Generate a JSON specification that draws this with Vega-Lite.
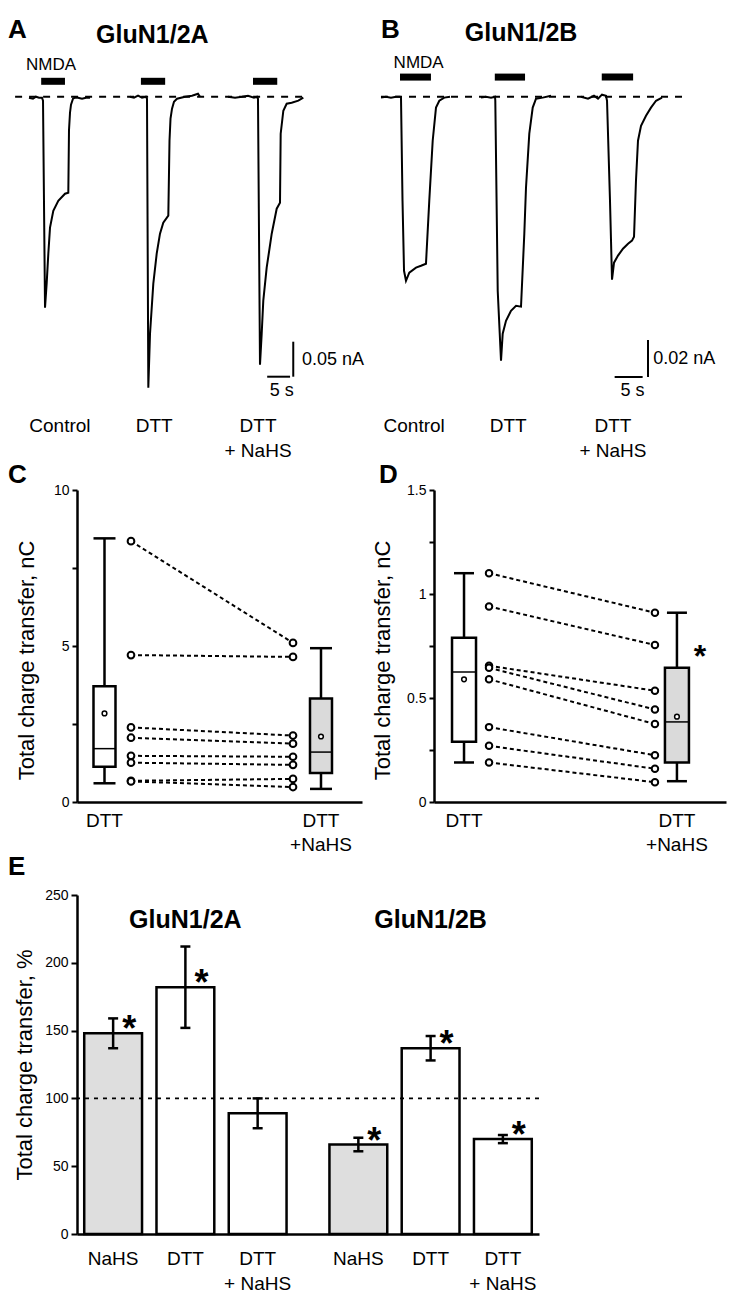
{
"$schema": "https://vega.github.io/schema/vega-lite/v6.json",
"padding": {"left": 8, "top": 0, "right": 0, "bottom": 0},
"spacing": 0,
"config": {
  "view": {"stroke": null},
  "font": "Liberation Sans",
  "tick": {"opacity": 1},
  "axis": {"grid": false, "domainColor": "black", "tickColor": "black", "labelColor": "black", "titleColor": "black"},
  "title": {"color": "black"}
},
"datasets": {
  "traces": [
    {"panel":"A","cond":"Control","t":6.34,"I":-0.0014},{"panel":"A","cond":"Control","t":7.21,"I":-0.0029},{"panel":"A","cond":"Control","t":7.87,"I":0},{"panel":"A","cond":"Control","t":8.53,"I":-0.0014},{"panel":"A","cond":"Control","t":9.18,"I":-0.0014},{"panel":"A","cond":"Control","t":9.40,"I":-0.0057},{"panel":"A","cond":"Control","t":9.84,"I":-0.3014},{"panel":"A","cond":"Control","t":10.21,"I":-0.2657},{"panel":"A","cond":"Control","t":10.56,"I":-0.2243},{"panel":"A","cond":"Control","t":10.93,"I":-0.1871},{"panel":"A","cond":"Control","t":11.65,"I":-0.1629},{"panel":"A","cond":"Control","t":12.74,"I":-0.1486},{"panel":"A","cond":"Control","t":14.21,"I":-0.1386},{"panel":"A","cond":"Control","t":14.93,"I":-0.1371},{"panel":"A","cond":"Control","t":15.08,"I":-0.0479},{"panel":"A","cond":"Control","t":15.30,"I":-0.0229},{"panel":"A","cond":"Control","t":15.52,"I":-0.0114},{"panel":"A","cond":"Control","t":15.96,"I":-0.0029},{"panel":"A","cond":"Control","t":16.39,"I":-0.0014},{"panel":"A","cond":"Control","t":17.05,"I":-0.0014},{"panel":"A","cond":"Control","t":17.93,"I":-0.0029},{"panel":"A","cond":"Control","t":18.80,"I":-0.0014},{"panel":"A","cond":"Control","t":19.67,"I":-0.0014},
    {"panel":"A","cond":"DTT","t":28.42,"I":0},{"panel":"A","cond":"DTT","t":29.29,"I":-0.0014},{"panel":"A","cond":"DTT","t":30.17,"I":0.0014},{"panel":"A","cond":"DTT","t":31.04,"I":-0.0014},{"panel":"A","cond":"DTT","t":31.91,"I":0},{"panel":"A","cond":"DTT","t":32.13,"I":-0.0029},{"panel":"A","cond":"DTT","t":32.42,"I":-0.4157},{"panel":"A","cond":"DTT","t":32.79,"I":-0.3386},{"panel":"A","cond":"DTT","t":33.51,"I":-0.2671},{"panel":"A","cond":"DTT","t":34.25,"I":-0.2243},{"panel":"A","cond":"DTT","t":34.97,"I":-0.1957},{"panel":"A","cond":"DTT","t":35.69,"I":-0.18},{"panel":"A","cond":"DTT","t":36.79,"I":-0.17},{"panel":"A","cond":"DTT","t":37.05,"I":-0.0629},{"panel":"A","cond":"DTT","t":37.27,"I":-0.0314},{"panel":"A","cond":"DTT","t":37.60,"I":-0.0171},{"panel":"A","cond":"DTT","t":38.03,"I":-0.0071},{"panel":"A","cond":"DTT","t":38.69,"I":-0.0029},{"panel":"A","cond":"DTT","t":40.44,"I":0},{"panel":"A","cond":"DTT","t":41.97,"I":0.0014},{"panel":"A","cond":"DTT","t":43.28,"I":0.0043},{"panel":"A","cond":"DTT","t":43.72,"I":0},
    {"panel":"A","cond":"DTT+NaHS","t":49.84,"I":0},{"panel":"A","cond":"DTT+NaHS","t":51.37,"I":-0.0014},{"panel":"A","cond":"DTT+NaHS","t":52.90,"I":0},{"panel":"A","cond":"DTT+NaHS","t":54.21,"I":0.0014},{"panel":"A","cond":"DTT+NaHS","t":55.52,"I":-0.0014},{"panel":"A","cond":"DTT+NaHS","t":56.18,"I":0},{"panel":"A","cond":"DTT+NaHS","t":56.39,"I":-0.0029},{"panel":"A","cond":"DTT+NaHS","t":56.83,"I":-0.3829},{"panel":"A","cond":"DTT+NaHS","t":57.2,"I":-0.3386},{"panel":"A","cond":"DTT+NaHS","t":57.55,"I":-0.2914},{"panel":"A","cond":"DTT+NaHS","t":58.29,"I":-0.2443},{"panel":"A","cond":"DTT+NaHS","t":59.39,"I":-0.1957},{"panel":"A","cond":"DTT+NaHS","t":60.48,"I":-0.16},{"panel":"A","cond":"DTT+NaHS","t":61.2,"I":-0.1514},{"panel":"A","cond":"DTT+NaHS","t":61.35,"I":-0.0529},{"panel":"A","cond":"DTT+NaHS","t":61.93,"I":-0.02},{"panel":"A","cond":"DTT+NaHS","t":62.66,"I":-0.01},{"panel":"A","cond":"DTT+NaHS","t":63.75,"I":-0.0086},{"panel":"A","cond":"DTT+NaHS","t":65.21,"I":-0.0057},{"panel":"A","cond":"DTT+NaHS","t":66.3,"I":-0.0014},
    {"panel":"B","cond":"Control","t":2.68,"I":-0.0005},{"panel":"B","cond":"Control","t":3.57,"I":0},{"panel":"B","cond":"Control","t":4.46,"I":-0.0005},{"panel":"B","cond":"Control","t":5.36,"I":0},{"panel":"B","cond":"Control","t":6.07,"I":0},{"panel":"B","cond":"Control","t":6.25,"I":-0.0005},{"panel":"B","cond":"Control","t":6.52,"I":-0.0562},{"panel":"B","cond":"Control","t":6.79,"I":-0.0941},{"panel":"B","cond":"Control","t":7.14,"I":-0.0995},{"panel":"B","cond":"Control","t":7.73,"I":-0.0951},{"panel":"B","cond":"Control","t":8.93,"I":-0.0924},{"panel":"B","cond":"Control","t":9.82,"I":-0.0914},{"panel":"B","cond":"Control","t":10.71,"I":-0.0903},{"panel":"B","cond":"Control","t":11.3,"I":-0.0562},{"panel":"B","cond":"Control","t":11.91,"I":-0.0238},{"panel":"B","cond":"Control","t":12.5,"I":-0.0059},{"panel":"B","cond":"Control","t":13.09,"I":-0.0022},{"panel":"B","cond":"Control","t":13.98,"I":-0.0005},{"panel":"B","cond":"Control","t":15.0,"I":0},
    {"panel":"B","cond":"DTT","t":20.54,"I":-0.0005},{"panel":"B","cond":"DTT","t":21.43,"I":0},{"panel":"B","cond":"DTT","t":22.32,"I":-0.0005},{"panel":"B","cond":"DTT","t":23.04,"I":0},{"panel":"B","cond":"DTT","t":23.09,"I":-0.0022},{"panel":"B","cond":"DTT","t":23.52,"I":-0.1049},{"panel":"B","cond":"DTT","t":24.11,"I":-0.1427},{"panel":"B","cond":"DTT","t":24.41,"I":-0.1281},{"panel":"B","cond":"DTT","t":25.0,"I":-0.1211},{"panel":"B","cond":"DTT","t":25.89,"I":-0.1157},{"panel":"B","cond":"DTT","t":26.79,"I":-0.113},{"panel":"B","cond":"DTT","t":27.68,"I":-0.1135},{"panel":"B","cond":"DTT","t":28.27,"I":-0.0741},{"panel":"B","cond":"DTT","t":28.57,"I":-0.0492},{"panel":"B","cond":"DTT","t":29.16,"I":-0.02},{"panel":"B","cond":"DTT","t":29.77,"I":-0.0059},{"panel":"B","cond":"DTT","t":30.36,"I":-0.0011},{"panel":"B","cond":"DTT","t":31.55,"I":-0.0005},{"panel":"B","cond":"DTT","t":33.04,"I":0.0005},
    {"panel":"B","cond":"DTT+NaHS","t":38.39,"I":0},{"panel":"B","cond":"DTT+NaHS","t":39.64,"I":-0.0011},{"panel":"B","cond":"DTT+NaHS","t":40.71,"I":0.0005},{"panel":"B","cond":"DTT+NaHS","t":41.43,"I":-0.0011},{"panel":"B","cond":"DTT+NaHS","t":42.14,"I":0.0011},{"panel":"B","cond":"DTT+NaHS","t":42.86,"I":0.0005},{"panel":"B","cond":"DTT+NaHS","t":43.04,"I":-0.0022},{"panel":"B","cond":"DTT+NaHS","t":43.57,"I":-0.0562},{"panel":"B","cond":"DTT+NaHS","t":43.93,"I":-0.0989},{"panel":"B","cond":"DTT+NaHS","t":44.29,"I":-0.0897},{"panel":"B","cond":"DTT+NaHS","t":45.0,"I":-0.0859},{"panel":"B","cond":"DTT+NaHS","t":45.89,"I":-0.0822},{"panel":"B","cond":"DTT+NaHS","t":46.79,"I":-0.0795},{"panel":"B","cond":"DTT+NaHS","t":47.5,"I":-0.0778},{"panel":"B","cond":"DTT+NaHS","t":47.86,"I":-0.0757},{"panel":"B","cond":"DTT+NaHS","t":48.21,"I":-0.0454},{"panel":"B","cond":"DTT+NaHS","t":48.57,"I":-0.0238},{"panel":"B","cond":"DTT+NaHS","t":49.11,"I":-0.0157},{"panel":"B","cond":"DTT+NaHS","t":50.0,"I":-0.0103},{"panel":"B","cond":"DTT+NaHS","t":50.89,"I":-0.0059},{"panel":"B","cond":"DTT+NaHS","t":51.79,"I":-0.0022},{"panel":"B","cond":"DTT+NaHS","t":52.86,"I":-0.0005}
  ],
  "nmda": [
    {"panel":"A","cond":"Control","start":9.0,"end":14.2},{"panel":"A","cond":"DTT","start":30.8,"end":36.1},{"panel":"A","cond":"DTT+NaHS","start":55.3,"end":60.6},
    {"panel":"B","cond":"Control","start":6.07,"end":11.6},{"panel":"B","cond":"DTT","start":23.0,"end":28.4},{"panel":"B","cond":"DTT+NaHS","start":42.1,"end":47.7}
  ],
  "boxes": [
    {"panel":"C","cond":"DTT","lo":0.6,"q1":1.13,"med":1.71,"q3":3.71,"hi":8.45,"mean":2.84},
    {"panel":"C","cond":"DTT+NaHS","lo":0.42,"q1":0.93,"med":1.6,"q3":3.32,"hi":4.93,"mean":2.1},
    {"panel":"D","cond":"DTT","lo":0.19,"q1":0.29,"med":0.625,"q3":0.79,"hi":1.1,"mean":0.59},
    {"panel":"D","cond":"DTT+NaHS","lo":0.1,"q1":0.19,"med":0.385,"q3":0.645,"hi":0.91,"mean":0.41}
  ],
  "pairs": [
    {"panel":"C","cell":1,"dtt":8.36,"nahs":5.1},{"panel":"C","cell":2,"dtt":4.71,"nahs":4.65},{"panel":"C","cell":3,"dtt":2.39,"nahs":2.13},{"panel":"C","cell":4,"dtt":2.06,"nahs":1.87},{"panel":"C","cell":5,"dtt":1.48,"nahs":1.45},{"panel":"C","cell":6,"dtt":1.26,"nahs":1.19},{"panel":"C","cell":7,"dtt":0.68,"nahs":0.74},{"panel":"C","cell":8,"dtt":0.66,"nahs":0.48},
    {"panel":"D","cell":1,"dtt":1.10,"nahs":0.91},{"panel":"D","cell":2,"dtt":0.94,"nahs":0.755},{"panel":"D","cell":3,"dtt":0.655,"nahs":0.535},{"panel":"D","cell":4,"dtt":0.645,"nahs":0.445},{"panel":"D","cell":5,"dtt":0.59,"nahs":0.375},{"panel":"D","cell":6,"dtt":0.36,"nahs":0.225},{"panel":"D","cell":7,"dtt":0.27,"nahs":0.16},{"panel":"D","cell":8,"dtt":0.19,"nahs":0.095}
  ],
  "pct": [
    {"group":"GluN1/2A","cond":"NaHS","mean":148,"lo":137,"hi":159,"sig":true},
    {"group":"GluN1/2A","cond":"DTT","mean":182,"lo":152,"hi":212,"sig":true},
    {"group":"GluN1/2A","cond":"DTT+NaHS","mean":89,"lo":78,"hi":100,"sig":false},
    {"group":"GluN1/2B","cond":"NaHS","mean":66,"lo":61,"hi":71,"sig":true},
    {"group":"GluN1/2B","cond":"DTT","mean":137,"lo":128,"hi":146,"sig":true},
    {"group":"GluN1/2B","cond":"DTT+NaHS","mean":70,"lo":67,"hi":73,"sig":true}
  ]
},
"vconcat": [
 {"bounds": "flush", "spacing": 0, "hconcat": [
  {"width": 289, "height": 396, "layer": [
    {"data": {"values": [{}]}, "mark": {"type": "rule", "strokeDash": [7, 7], "strokeWidth": 2, "color": "black"},
     "encoding": {"x": {"datum": 3.3, "type": "quantitative", "scale": {"domain": [16.83, 80], "nice": false, "zero": false}, "axis": null}, "x2": {"datum": 66.7},
                  "y": {"datum": 0, "type": "quantitative", "scale": {"domain": [-0.42757, 0.13814], "nice": false, "zero": false}, "axis": null}}},
    {"data": {"name": "nmda"}, "transform": [{"filter": "datum.panel == 'A'"}], "mark": {"type": "rule", "strokeWidth": 7, "color": "black"},
     "encoding": {"x": {"field": "start", "type": "quantitative", "axis": null}, "x2": {"field": "end"}, "y": {"datum": 0.022, "type": "quantitative", "axis": null}}},
    {"data": {"name": "traces"}, "transform": [{"filter": "datum.panel == 'A'"}], "mark": {"type": "line", "strokeWidth": 2, "color": "black"},
     "encoding": {"x": {"field": "t", "type": "quantitative", "axis": null}, "y": {"field": "I", "type": "quantitative", "axis": null}, "detail": {"field": "cond"}}},
    {"data": {"values": [{}]}, "mark": {"type": "rule", "strokeWidth": 2, "color": "black"},
     "encoding": {"x": {"datum": 64.1, "type": "quantitative", "axis": null}, "y": {"datum": -0.35, "type": "quantitative", "axis": null}, "y2": {"datum": -0.40}}},
    {"data": {"values": [{}]}, "mark": {"type": "rule", "strokeWidth": 2, "color": "black"},
     "encoding": {"x": {"datum": 58.4, "type": "quantitative", "axis": null}, "x2": {"datum": 63.4}, "y": {"datum": -0.40, "type": "quantitative", "axis": null}}},
    {"data": {"values": [{}]}, "mark": {"type": "text", "text": "A", "fontSize": 26, "fontWeight": "bold", "align": "left", "baseline": "middle", "color": "black"},
     "encoding": {"x": {"datum": 1.75, "type": "quantitative", "axis": null}, "y": {"datum": 0.0953, "type": "quantitative", "axis": null}}},
    {"data": {"values": [{}]}, "mark": {"type": "text", "text": "GluN1/2A", "fontSize": 25, "fontWeight": "bold", "align": "center", "baseline": "middle", "color": "black"},
     "encoding": {"x": {"datum": 33.3, "type": "quantitative", "axis": null}, "y": {"datum": 0.088, "type": "quantitative", "axis": null}}},
    {"data": {"values": [{}]}, "mark": {"type": "text", "text": "NMDA", "fontSize": 17, "align": "center", "baseline": "middle", "color": "black"},
     "encoding": {"x": {"datum": 11.15, "type": "quantitative", "axis": null}, "y": {"datum": 0.0453, "type": "quantitative", "axis": null}}},
    {"data": {"values": [{}]}, "mark": {"type": "text", "text": "0.05 nA", "fontSize": 18, "align": "left", "baseline": "middle", "color": "black"},
     "encoding": {"x": {"datum": 66.0, "type": "quantitative", "axis": null}, "y": {"datum": -0.3757, "type": "quantitative", "axis": null}}},
    {"data": {"values": [{}]}, "mark": {"type": "text", "text": "5 s", "fontSize": 18, "align": "center", "baseline": "middle", "color": "black"},
     "encoding": {"x": {"datum": 61.6, "type": "quantitative", "axis": null}, "y": {"datum": -0.421, "type": "quantitative", "axis": null}}},
    {"data": {"values": [{}]}, "mark": {"type": "text", "text": "Control", "fontSize": 19, "align": "center", "baseline": "top", "color": "black"},
     "encoding": {"x": {"datum": 13.1, "type": "quantitative", "axis": null}, "y": {"datum": -0.4576, "type": "quantitative", "axis": null}}},
    {"data": {"values": [{}]}, "mark": {"type": "text", "text": "DTT", "fontSize": 19, "align": "center", "baseline": "top", "color": "black"},
     "encoding": {"x": {"datum": 33.7, "type": "quantitative", "axis": null}, "y": {"datum": -0.4576, "type": "quantitative", "axis": null}}},
    {"data": {"values": [{}]}, "mark": {"type": "text", "text": "DTT\n+ NaHS", "lineBreak": "\n", "lineHeight": 25, "fontSize": 19, "align": "center", "baseline": "top", "color": "black"},
     "encoding": {"x": {"datum": 56.4, "type": "quantitative", "axis": null}, "y": {"datum": -0.4576, "type": "quantitative", "axis": null}}}
  ]},
  {"width": 366, "height": 396, "layer": [
    {"data": {"values": [{}]}, "mark": {"type": "rule", "strokeDash": [7, 7], "strokeWidth": 2, "color": "black"},
     "encoding": {"x": {"datum": 2.68, "type": "quantitative", "scale": {"domain": [0, 65.357], "nice": false, "zero": false}, "axis": null}, "x2": {"datum": 57.1},
                  "y": {"datum": 0, "type": "quantitative", "scale": {"domain": [-0.16178, 0.05227], "nice": false, "zero": false}, "axis": null}}},
    {"data": {"name": "nmda"}, "transform": [{"filter": "datum.panel == 'B'"}], "mark": {"type": "rule", "strokeWidth": 7, "color": "black"},
     "encoding": {"x": {"field": "start", "type": "quantitative", "axis": null}, "x2": {"field": "end"}, "y": {"datum": 0.0106, "type": "quantitative", "axis": null}}},
    {"data": {"name": "traces"}, "transform": [{"filter": "datum.panel == 'B'"}], "mark": {"type": "line", "strokeWidth": 2, "color": "black"},
     "encoding": {"x": {"field": "t", "type": "quantitative", "axis": null}, "y": {"field": "I", "type": "quantitative", "axis": null}, "detail": {"field": "cond"}}},
    {"data": {"values": [{}]}, "mark": {"type": "rule", "strokeWidth": 2, "color": "black"},
     "encoding": {"x": {"datum": 50.36, "type": "quantitative", "axis": null}, "y": {"datum": -0.1315, "type": "quantitative", "axis": null}, "y2": {"datum": -0.1515}}},
    {"data": {"values": [{}]}, "mark": {"type": "rule", "strokeWidth": 2, "color": "black"},
     "encoding": {"x": {"datum": 44.4, "type": "quantitative", "axis": null}, "x2": {"datum": 49.4}, "y": {"datum": -0.1515, "type": "quantitative", "axis": null}}},
    {"data": {"values": [{}]}, "mark": {"type": "text", "text": "B", "fontSize": 26, "fontWeight": "bold", "align": "left", "baseline": "middle", "color": "black"},
     "encoding": {"x": {"datum": 2.68, "type": "quantitative", "axis": null}, "y": {"datum": 0.036, "type": "quantitative", "axis": null}}},
    {"data": {"values": [{}]}, "mark": {"type": "text", "text": "GluN1/2B", "fontSize": 25, "fontWeight": "bold", "align": "center", "baseline": "middle", "color": "black"},
     "encoding": {"x": {"datum": 27.7, "type": "quantitative", "axis": null}, "y": {"datum": 0.0344, "type": "quantitative", "axis": null}}},
    {"data": {"values": [{}]}, "mark": {"type": "text", "text": "NMDA", "fontSize": 17, "align": "center", "baseline": "middle", "color": "black"},
     "encoding": {"x": {"datum": 9.4, "type": "quantitative", "axis": null}, "y": {"datum": 0.0182, "type": "quantitative", "axis": null}}},
    {"data": {"values": [{}]}, "mark": {"type": "text", "text": "0.02 nA", "fontSize": 18, "align": "left", "baseline": "middle", "color": "black"},
     "encoding": {"x": {"datum": 51.3, "type": "quantitative", "axis": null}, "y": {"datum": -0.142, "type": "quantitative", "axis": null}}},
    {"data": {"values": [{}]}, "mark": {"type": "text", "text": "5 s", "fontSize": 18, "align": "center", "baseline": "middle", "color": "black"},
     "encoding": {"x": {"datum": 47.6, "type": "quantitative", "axis": null}, "y": {"datum": -0.159, "type": "quantitative", "axis": null}}},
    {"data": {"values": [{}]}, "mark": {"type": "text", "text": "Control", "fontSize": 19, "align": "center", "baseline": "top", "color": "black"},
     "encoding": {"x": {"datum": 8.6, "type": "quantitative", "axis": null}, "y": {"datum": -0.1731, "type": "quantitative", "axis": null}}},
    {"data": {"values": [{}]}, "mark": {"type": "text", "text": "DTT", "fontSize": 19, "align": "center", "baseline": "top", "color": "black"},
     "encoding": {"x": {"datum": 25.4, "type": "quantitative", "axis": null}, "y": {"datum": -0.1731, "type": "quantitative", "axis": null}}},
    {"data": {"values": [{}]}, "mark": {"type": "text", "text": "DTT\n+ NaHS", "lineBreak": "\n", "lineHeight": 25, "fontSize": 19, "align": "center", "baseline": "top", "color": "black"},
     "encoding": {"x": {"datum": 44.1, "type": "quantitative", "axis": null}, "y": {"datum": -0.1731, "type": "quantitative", "axis": null}}}
  ]}
 ]},
 {"bounds": "flush", "spacing": 72, "hconcat": [
  {"width": 285, "height": 312,
   "title": {"text": "C", "anchor": "start", "frame": "group", "dx": -69, "offset": -5, "fontSize": 26, "fontWeight": "bold", "font": "Liberation Sans", "color": "black"},
   "layer": [
    {"data": {"name": "boxes"}, "transform": [{"filter": "datum.panel == 'C'"}], "mark": {"type": "rule", "strokeWidth": 2.5, "color": "black"},
     "encoding": {
       "x": {"field": "cond", "type": "nominal", "scale": {"type": "band", "domain": ["DTT", "DTT+NaHS"], "paddingInner": 0.746, "paddingOuter": 0.0312, "align": 0},
             "axis": {"title": null, "ticks": false, "domainWidth": 2.5, "labelAngle": 0, "labelFontSize": 19, "labelPadding": 9, "labelLineHeight": 24, "labelExpr": "datum.value == 'DTT+NaHS' ? ['DTT', '+NaHS'] : datum.label"}},
       "y": {"field": "lo", "type": "quantitative", "scale": {"domain": [0, 10], "nice": false},
             "axis": {"title": "Total charge transfer, nC", "titleFont": "Liberation Sans", "titleFontSize": 22, "titleFontWeight": "normal", "titlePadding": 15, "titleY": 170, "values": [0, 2.5, 5, 7.5, 10], "labelExpr": "datum.value % 5 == 0 ? format(datum.value, 'd') : ''", "labelFontSize": 14, "labelPadding": 3, "tickSize": 5, "tickWidth": 2, "domainWidth": 2.5}},
       "y2": {"field": "hi"}}},
    {"data": {"name": "boxes"}, "transform": [{"filter": "datum.panel == 'C'"}], "mark": {"type": "bar", "width": 22, "stroke": "black", "strokeWidth": 2.5},
     "encoding": {"x": {"field": "cond", "type": "nominal"}, "y": {"field": "q1", "type": "quantitative"}, "y2": {"field": "q3"},
       "fill": {"condition": {"test": "datum.cond == 'DTT+NaHS'", "value": "#dadada"}, "value": "white"}}},
    {"data": {"name": "boxes"}, "transform": [{"filter": "datum.panel == 'C'"}], "mark": {"type": "tick", "size": 22, "thickness": 1.5, "color": "black", "opacity": 1},
     "encoding": {"x": {"field": "cond", "type": "nominal"}, "y": {"field": "med", "type": "quantitative"}}},
    {"data": {"name": "boxes"}, "transform": [{"filter": "datum.panel == 'C'"}], "mark": {"type": "tick", "size": 22, "thickness": 2.5, "color": "black", "opacity": 1},
     "encoding": {"x": {"field": "cond", "type": "nominal"}, "y": {"field": "lo", "type": "quantitative"}}},
    {"data": {"name": "boxes"}, "transform": [{"filter": "datum.panel == 'C'"}], "mark": {"type": "tick", "size": 22, "thickness": 2.5, "color": "black", "opacity": 1},
     "encoding": {"x": {"field": "cond", "type": "nominal"}, "y": {"field": "hi", "type": "quantitative"}}},
    {"data": {"name": "boxes"}, "transform": [{"filter": "datum.panel == 'C'"}], "mark": {"type": "point", "size": 22, "filled": true, "fill": "white", "stroke": "black", "strokeWidth": 1.5, "opacity": 1},
     "encoding": {"x": {"field": "cond", "type": "nominal"}, "y": {"field": "mean", "type": "quantitative"}}},
    {"data": {"name": "pairs"}, "transform": [{"filter": "datum.panel == 'C'"}], "mark": {"type": "rule", "strokeDash": [4, 3], "strokeWidth": 2, "color": "black", "xOffset": 26.5, "x2Offset": -28},
     "encoding": {"x": {"datum": "DTT", "type": "nominal"}, "x2": {"datum": "DTT+NaHS"}, "y": {"field": "dtt", "type": "quantitative"}, "y2": {"field": "nahs"}}},
    {"data": {"name": "pairs"}, "transform": [{"filter": "datum.panel == 'C'"}], "mark": {"type": "point", "size": 45, "filled": true, "fill": "white", "stroke": "black", "strokeWidth": 2, "opacity": 1, "xOffset": 26.5},
     "encoding": {"x": {"datum": "DTT", "type": "nominal"}, "y": {"field": "dtt", "type": "quantitative"}}},
    {"data": {"name": "pairs"}, "transform": [{"filter": "datum.panel == 'C'"}], "mark": {"type": "point", "size": 45, "filled": true, "fill": "white", "stroke": "black", "strokeWidth": 2, "opacity": 1, "xOffset": -28},
     "encoding": {"x": {"datum": "DTT+NaHS", "type": "nominal"}, "y": {"field": "nahs", "type": "quantitative"}}}
   ]},
  {"width": 292, "height": 312,
   "title": {"text": "D", "anchor": "start", "frame": "group", "dx": -55, "offset": -5, "fontSize": 26, "fontWeight": "bold", "font": "Liberation Sans", "color": "black"},
   "layer": [
    {"data": {"name": "boxes"}, "transform": [{"filter": "datum.panel == 'D'"}], "mark": {"type": "rule", "strokeWidth": 2.5, "color": "black"},
     "encoding": {
       "x": {"field": "cond", "type": "nominal", "scale": {"type": "band", "domain": ["DTT", "DTT+NaHS"], "paddingInner": 0.718, "paddingOuter": 0.0447, "align": 0},
             "axis": {"title": null, "ticks": false, "domainWidth": 2.5, "labelAngle": 0, "labelFontSize": 19, "labelPadding": 9, "labelLineHeight": 24, "labelExpr": "datum.value == 'DTT+NaHS' ? ['DTT', '+NaHS'] : datum.label"}},
       "y": {"field": "lo", "type": "quantitative", "scale": {"domain": [0, 1.5], "nice": false},
             "axis": {"title": "Total charge transfer, nC", "titleFont": "Liberation Sans", "titleFontSize": 22, "titleFontWeight": "normal", "titlePadding": 12, "titleY": 170, "values": [0, 0.25, 0.5, 0.75, 1, 1.25, 1.5], "labelExpr": "datum.value % 0.5 == 0 ? format(datum.value, '~g') : ''", "labelFontSize": 14, "labelPadding": 3, "tickSize": 5, "tickWidth": 2, "domainWidth": 2.5}},
       "y2": {"field": "hi"}}},
    {"data": {"name": "boxes"}, "transform": [{"filter": "datum.panel == 'D'"}], "mark": {"type": "bar", "width": 24, "stroke": "black", "strokeWidth": 2.5},
     "encoding": {"x": {"field": "cond", "type": "nominal"}, "y": {"field": "q1", "type": "quantitative"}, "y2": {"field": "q3"},
       "fill": {"condition": {"test": "datum.cond == 'DTT+NaHS'", "value": "#dadada"}, "value": "white"}}},
    {"data": {"name": "boxes"}, "transform": [{"filter": "datum.panel == 'D'"}], "mark": {"type": "tick", "size": 24, "thickness": 1.5, "color": "black", "opacity": 1},
     "encoding": {"x": {"field": "cond", "type": "nominal"}, "y": {"field": "med", "type": "quantitative"}}},
    {"data": {"name": "boxes"}, "transform": [{"filter": "datum.panel == 'D'"}], "mark": {"type": "tick", "size": 20, "thickness": 2.5, "color": "black", "opacity": 1},
     "encoding": {"x": {"field": "cond", "type": "nominal"}, "y": {"field": "lo", "type": "quantitative"}}},
    {"data": {"name": "boxes"}, "transform": [{"filter": "datum.panel == 'D'"}], "mark": {"type": "tick", "size": 20, "thickness": 2.5, "color": "black", "opacity": 1},
     "encoding": {"x": {"field": "cond", "type": "nominal"}, "y": {"field": "hi", "type": "quantitative"}}},
    {"data": {"name": "boxes"}, "transform": [{"filter": "datum.panel == 'D'"}], "mark": {"type": "point", "size": 22, "filled": true, "fill": "white", "stroke": "black", "strokeWidth": 1.5, "opacity": 1},
     "encoding": {"x": {"field": "cond", "type": "nominal"}, "y": {"field": "mean", "type": "quantitative"}}},
    {"data": {"name": "pairs"}, "transform": [{"filter": "datum.panel == 'D'"}], "mark": {"type": "rule", "strokeDash": [4, 3], "strokeWidth": 2, "color": "black", "xOffset": 25, "x2Offset": -22},
     "encoding": {"x": {"datum": "DTT", "type": "nominal"}, "x2": {"datum": "DTT+NaHS"}, "y": {"field": "dtt", "type": "quantitative"}, "y2": {"field": "nahs"}}},
    {"data": {"name": "pairs"}, "transform": [{"filter": "datum.panel == 'D'"}], "mark": {"type": "point", "size": 42, "filled": true, "fill": "white", "stroke": "black", "strokeWidth": 2, "opacity": 1, "xOffset": 25},
     "encoding": {"x": {"datum": "DTT", "type": "nominal"}, "y": {"field": "dtt", "type": "quantitative"}}},
    {"data": {"name": "pairs"}, "transform": [{"filter": "datum.panel == 'D'"}], "mark": {"type": "point", "size": 42, "filled": true, "fill": "white", "stroke": "black", "strokeWidth": 2, "opacity": 1, "xOffset": -22},
     "encoding": {"x": {"datum": "DTT+NaHS", "type": "nominal"}, "y": {"field": "nahs", "type": "quantitative"}}},
    {"data": {"values": [{}]}, "mark": {"type": "text", "text": "*", "fontSize": 32, "fontWeight": "bold", "align": "center", "baseline": "alphabetic", "dx": 23, "color": "black"},
     "encoding": {"x": {"datum": "DTT+NaHS", "type": "nominal"}, "y": {"datum": 0.65, "type": "quantitative"}}}
   ]}
 ]},
 {"width": 462, "height": 339,
  "title": {"text": "E", "anchor": "start", "frame": "group", "dx": -69, "offset": 8, "fontSize": 26, "fontWeight": "bold", "font": "Liberation Sans", "color": "black"},
  "data": {"name": "pct"},
  "layer": [
    {"mark": {"type": "bar", "stroke": "black", "strokeWidth": 2.5},
     "encoding": {
       "x": {"field": "group", "type": "nominal", "scale": {"type": "band", "domain": ["GluN1/2A", "GluN1/2B"], "paddingInner": 0.116, "paddingOuter": 0},
             "axis": {"title": null, "labels": false, "ticks": false, "domainWidth": 2.5}},
       "xOffset": {"field": "cond", "type": "nominal", "scale": {"domain": ["NaHS", "DTT", "DTT+NaHS"], "paddingInner": 0.2, "paddingOuter": 0.1}},
       "y": {"field": "mean", "type": "quantitative", "scale": {"domain": [0, 250], "nice": false},
             "axis": {"title": "Total charge transfer, %", "titleFont": "Liberation Sans", "titleFontSize": 22, "titleFontWeight": "normal", "titlePadding": 8, "values": [0, 25, 50, 75, 100, 125, 150, 175, 200, 225, 250], "labelExpr": "datum.value % 50 == 0 ? datum.label : ''", "labelFontSize": 14, "labelPadding": 3, "tickSize": 6, "tickWidth": 2, "domainWidth": 2.5}},
       "fill": {"condition": {"test": "datum.cond == 'NaHS'", "value": "#dedede"}, "value": "white"}}},
    {"data": {"values": [{}]}, "mark": {"type": "rule", "strokeDash": [4, 5], "strokeWidth": 1.8, "color": "black"},
     "encoding": {"y": {"datum": 100, "type": "quantitative"}}},
    {"mark": {"type": "rule", "strokeWidth": 2.5, "color": "black"},
     "encoding": {"x": {"field": "group", "type": "nominal"}, "xOffset": {"field": "cond", "type": "nominal"}, "y": {"field": "lo", "type": "quantitative"}, "y2": {"field": "hi"}}},
    {"mark": {"type": "tick", "size": 10, "thickness": 2.5, "color": "black", "opacity": 1},
     "encoding": {"x": {"field": "group", "type": "nominal"}, "xOffset": {"field": "cond", "type": "nominal"}, "y": {"field": "lo", "type": "quantitative"}}},
    {"mark": {"type": "tick", "size": 10, "thickness": 2.5, "color": "black", "opacity": 1},
     "encoding": {"x": {"field": "group", "type": "nominal"}, "xOffset": {"field": "cond", "type": "nominal"}, "y": {"field": "hi", "type": "quantitative"}}},
    {"transform": [{"filter": "datum.sig"}],
     "mark": {"type": "text", "text": "*", "fontSize": 36, "fontWeight": "bold", "align": "center", "baseline": "alphabetic", "dx": 16, "dy": 8, "color": "black"},
     "encoding": {"x": {"field": "group", "type": "nominal"}, "xOffset": {"field": "cond", "type": "nominal"}, "y": {"field": "mean", "type": "quantitative"}}},
    {"transform": [{"calculate": "datum.cond == 'DTT+NaHS' ? 'DTT\\n+ NaHS' : datum.cond", "as": "label"}],
     "mark": {"type": "text", "fontSize": 19, "align": "center", "baseline": "top", "dy": 16, "lineBreak": "\n", "lineHeight": 25, "color": "black"},
     "encoding": {"x": {"field": "group", "type": "nominal"}, "xOffset": {"field": "cond", "type": "nominal"}, "y": {"datum": 0, "type": "quantitative"}, "text": {"field": "label"}}},
    {"transform": [{"aggregate": [{"op": "count", "as": "n"}], "groupby": ["group"]}],
     "mark": {"type": "text", "fontSize": 25, "fontWeight": "bold", "align": "center", "baseline": "middle", "color": "black"},
     "encoding": {"x": {"field": "group", "type": "nominal"}, "y": {"datum": 231.5, "type": "quantitative"}, "text": {"field": "group"}}}
  ]}
]
}
